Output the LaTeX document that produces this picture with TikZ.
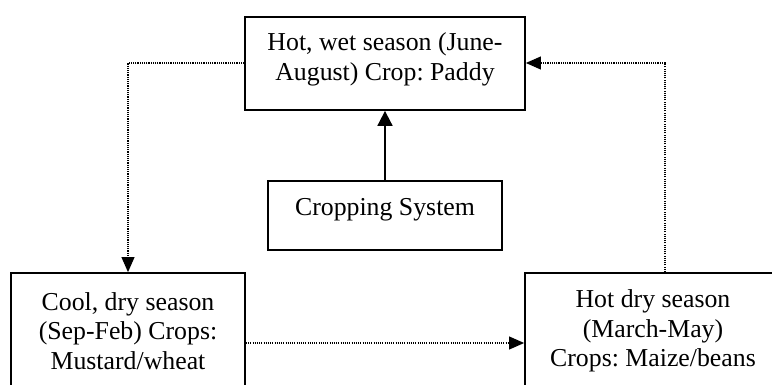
\documentclass[tikz,border=0pt]{standalone}
\usepackage{fontspec}
\setmainfont{Liberation Serif}
\usetikzlibrary{arrows.meta,calc}
\frenchspacing
\begin{document}
\begin{tikzpicture}[x=1pt,y=-1pt,
  box/.style={draw=black,line width=1.8pt,inner sep=0pt},
  boxtext/.style={inner sep=0pt,align=center,
    font=\fontsize{25.8}{29.5}\selectfont,text=black},
  solidlink/.style={line width=1.8pt,-{Triangle[length=15pt,width=15pt]}},
  dotlink/.style={line width=1.1pt,dash pattern=on 1.1pt off 1.1pt,
    -{Triangle[length=15pt,width=13pt]}}]
\useasboundingbox (0,0) rectangle (772,385);
\clip (0,0) rectangle (772,385);
\fill[white] (0,0) rectangle (772,385);

% season boxes and the central box
\node[box,minimum width=280pt,minimum height=93pt] (wet) at (385,63.5) {};
\node[box,minimum width=234pt,minimum height=69pt] (sys) at (385,215.5) {};
\node[box,minimum width=234pt,minimum height=122pt] (cool) at (128,334) {};
\node[box,minimum width=290pt,minimum height=122pt] (hot) at (670,334) {};

% box texts
\node[boxtext] (wettext) at ($(wet.center)+(0,-4)$)
  {Hot, wet season (June-\\August) Crop: Paddy};
\node[boxtext] (systext) at ($(sys.center)+(0,-6)$) {Cropping System};
\node[boxtext] (cooltext) at ($(cool.center)+(0,-3)$)
  {Cool, dry season\\(Sep-Feb) Crops:\\Mustard/wheat};
\node[boxtext] (hottext) at (653,331)
  {Hot dry season\\(March-May)\\Crops: Maize/beans};

% connectors
\draw[solidlink] (sys.north) -- (wet.south);
\coordinate (c1) at (128,63);
\draw[dotlink] (wet.west |- c1) -- (c1) -- (cool.north);
\coordinate (c2) at (665,63);
\draw[dotlink] (hot.north -| c2) -- (c2) -- (wet.east |- c2);
\coordinate (c3) at (0,343);
\draw[dotlink] (cool.east |- c3) -- (hot.west |- c3);
\end{tikzpicture}
\end{document}
